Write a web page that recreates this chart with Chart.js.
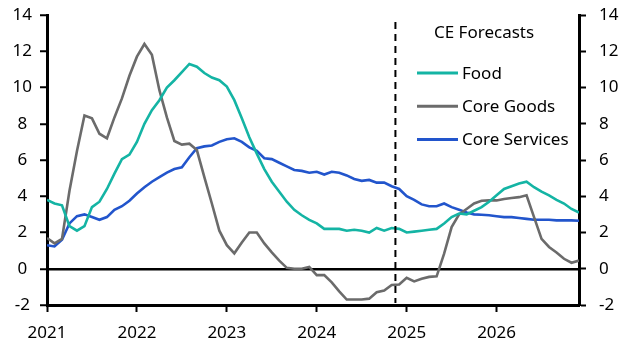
<!DOCTYPE html>
<html>
<head>
<meta charset="utf-8">
<script src="https://cdn.jsdelivr.net/npm/chart.js@4.4.1/dist/chart.umd.min.js"></script>
<style>
  html, body { margin: 0; padding: 0; background: #fff; }
  #wrap { width: 630px; height: 354px; }
</style>
</head>
<body>
<div id="wrap"><canvas id="chart"></canvas></div>
<script>
// monthly, Jan 2021 .. Dec 2026
const years = ['2021', '2022', '2023', '2024', '2025', '2026'];
const food = [
  3.8, 3.6, 3.5, 2.35, 2.1, 2.35, 3.4, 3.7, 4.4, 5.25, 6.05, 6.3,
  7.0, 8.0, 8.75, 9.3, 10.0, 10.4, 10.85, 11.3, 11.15, 10.8, 10.55, 10.4,
  10.05, 9.3, 8.3, 7.25, 6.35, 5.5, 4.8, 4.25, 3.7, 3.25, 2.95, 2.7,
  2.5, 2.2, 2.2, 2.2, 2.1, 2.15, 2.1, 2.0, 2.25, 2.1, 2.25, 2.2,
  2.0, 2.05, 2.1, 2.15, 2.2, 2.5, 2.85, 3.05, 3.0, 3.2, 3.4, 3.7,
  4.05, 4.4, 4.55, 4.7, 4.8, 4.5, 4.25, 4.05, 3.8, 3.6, 3.3, 3.1
];
const coreGoods = [
  1.7, 1.4, 1.65, 4.3, 6.5, 8.45, 8.3, 7.45, 7.2, 8.35, 9.4, 10.65,
  11.7, 12.4, 11.8, 9.85, 8.35, 7.05, 6.85, 6.9, 6.55, 5.05, 3.6, 2.1,
  1.3, 0.85, 1.45, 2.0, 2.0, 1.4, 0.9, 0.45, 0.05, 0.0, 0.0, 0.1,
  -0.35, -0.35, -0.75, -1.25, -1.7, -1.7, -1.7, -1.65, -1.3, -1.2, -0.9, -0.87,
  -0.5, -0.7, -0.55, -0.45, -0.42, 0.83, 2.3, 3.0, 3.3, 3.6, 3.75, 3.77,
  3.77, 3.85, 3.9, 3.95, 4.05, 2.85, 1.65, 1.2, 0.9, 0.55, 0.33, 0.45
];
const coreServices = [
  1.3, 1.23, 1.6, 2.5, 2.9, 3.0, 2.85, 2.7, 2.85, 3.25, 3.45, 3.75,
  4.15, 4.5, 4.8, 5.05, 5.3, 5.5, 5.6, 6.15, 6.65, 6.75, 6.8, 7.0,
  7.15, 7.2, 7.0, 6.7, 6.5, 6.1, 6.05, 5.85, 5.65, 5.45, 5.4, 5.3,
  5.35, 5.2, 5.35, 5.3, 5.15, 4.95, 4.85, 4.9, 4.75, 4.75, 4.55, 4.4,
  4.0, 3.8, 3.55, 3.45, 3.45, 3.6, 3.4, 3.25, 3.1, 3.0, 2.98, 2.95,
  2.9, 2.85, 2.85, 2.8, 2.75, 2.7, 2.7, 2.7, 2.67, 2.67, 2.67, 2.65
];
const yTicks = [-2, 0, 2, 4, 6, 8, 10, 12, 14];
const forecastStart = 46.5; // month index where forecasts begin
const legendTitle = 'CE Forecasts';

const FONT = '"Noto Sans", sans-serif';
const toPoints = arr => arr.map((v, i) => ({ x: i, y: v }));

// dashed forecast marker + legend box in the top right
const overlay = {
  id: 'overlay',
  afterDatasetsDraw(chart) {
    const { ctx, chartArea: a, scales } = chart;
    const x = scales.x.getPixelForValue(forecastStart);
    ctx.save();
    ctx.strokeStyle = '#000';
    ctx.lineWidth = 2;
    ctx.setLineDash([7, 5]);
    ctx.beginPath();
    ctx.moveTo(x, a.top + 7);
    ctx.lineTo(x, a.bottom - 2);
    ctx.stroke();
    ctx.setLineDash([]);

    ctx.font = '17px ' + FONT;
    ctx.fillStyle = '#000';
    ctx.textBaseline = 'middle';
    ctx.fillText(legendTitle, a.right - 145, a.top + 18);
    chart.data.datasets.forEach((ds, k) => {
      const y = a.top + 58 + k * 33.3;
      ctx.strokeStyle = ds.borderColor;
      ctx.lineWidth = 3;
      ctx.beginPath();
      ctx.moveTo(a.right - 162, y);
      ctx.lineTo(a.right - 121, y);
      ctx.stroke();
      ctx.fillText(ds.label, a.right - 117, y + 1);
    });
    ctx.restore();
  }
};

// fixed axis sizes, and no extra room for the end labels
const fixWidth = w => s => { s.width = w; s.paddingTop = 0; s.paddingBottom = 0; };

const yCommon = {
  type: 'linear',
  min: -2,
  max: 14,
  afterBuildTicks: s => { s.ticks = yTicks.map(v => ({ value: v })); },
  border: { color: '#000', width: 3 },
  ticks: { color: '#000', font: { family: FONT, size: 17 } }
};

new Chart(document.getElementById('chart'), {
  type: 'line',
  data: {
    datasets: [
      { label: 'Food', data: toPoints(food), borderColor: '#14b4a4' },
      { label: 'Core Goods', data: toPoints(coreGoods), borderColor: '#6b6b6b' },
      { label: 'Core Services', data: toPoints(coreServices), borderColor: '#2255cc' }
    ]
  },
  options: {
    responsive: true,
    maintainAspectRatio: false,
    animation: false,
    layout: { padding: { top: 15, left: 0, right: 0, bottom: 0 } },
    elements: {
      line: { borderWidth: 2.6, tension: 0 },
      point: { radius: 0 }
    },
    plugins: { legend: { display: false }, tooltip: { enabled: false } },
    scales: {
      x: {
        type: 'linear',
        min: 0,
        max: 71,
        afterBuildTicks: s => { s.ticks = years.map((_, i) => ({ value: i * 12 })); },
        afterFit: s => { s.height = 49; s.paddingLeft = 0; s.paddingRight = 0; },
        border: { color: '#000', width: 3 },
        grid: { drawOnChartArea: false, tickLength: 7, tickColor: '#000', tickWidth: 2 },
        ticks: {
          color: '#000',
          padding: 11,
          maxRotation: 0,
          font: { family: FONT, size: 17 },
          callback: v => years[v / 12]
        }
      },
      y: Object.assign({}, yCommon, {
        position: 'left',
        afterFit: fixWidth(47),
        grid: {
          tickLength: 7,
          tickColor: '#000',
          tickWidth: 2,
          color: c => (c.tick && c.tick.value === 0 ? '#000' : 'rgba(0,0,0,0)'),
          lineWidth: 2.5
        },
        ticks: Object.assign({}, yCommon.ticks, { padding: 8, crossAlign: 'center' })
      }),
      y2: Object.assign({}, yCommon, {
        position: 'right',
        afterFit: fixWidth(51),
        grid: { drawOnChartArea: false, tickLength: 7, tickColor: '#000', tickWidth: 2 },
        ticks: Object.assign({}, yCommon.ticks, { padding: 13 })
      })
    }
  },
  plugins: [overlay]
});
</script>
</body>
</html>
